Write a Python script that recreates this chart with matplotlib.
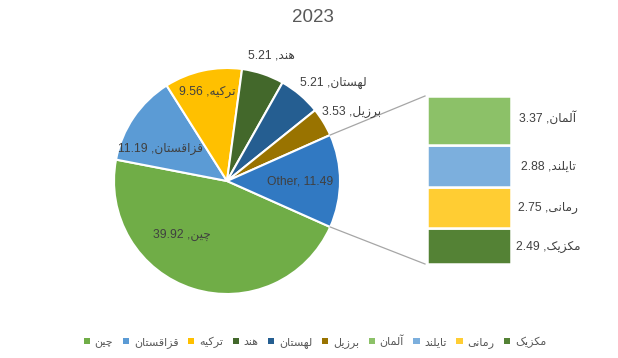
import numpy as np
import matplotlib
matplotlib.use('Agg')
import matplotlib.pyplot as plt
from matplotlib.patches import Patch
from matplotlib.lines import Line2D

plt.rcParams['font.family'] = ['Liberation Sans', 'DejaVu Sans']

### data ######################################################################

pie_names = ['چین', 'قزاقستان', 'ترکیه', 'هند', 'لهستان', 'برزیل']
pie_values = [39.92, 11.19, 9.56, 5.21, 5.21, 3.53]
pie_colors = ['#70AD47', '#5B9BD5', '#FFC000', '#43682B', '#255E91', '#997300']

bar_names = ['آلمان', 'تایلند', 'رمانی', 'مکزیک']
bar_values = [3.37, 2.88, 2.75, 2.49]
bar_colors = ['#8CC168', '#7CAFDD', '#FFCD33', '#548235']

other_label = 'Other'
other_color = '#3179C2'
title = '2023'

### persian shaping (matplotlib has no bidi / joining) ########################

FORMS = {
    'ا': ('\uFE8D', '\uFE8E', None, None),
    'آ': ('\uFE81', '\uFE82', None, None),
    'ب': ('\uFE8F', '\uFE90', '\uFE91', '\uFE92'),
    'ت': ('\uFE95', '\uFE96', '\uFE97', '\uFE98'),
    'چ': ('\uFB7A', '\uFB7B', '\uFB7C', '\uFB7D'),
    'د': ('\uFEA9', '\uFEAA', None, None),
    'ر': ('\uFEAD', '\uFEAE', None, None),
    'ز': ('\uFEAF', '\uFEB0', None, None),
    'س': ('\uFEB1', '\uFEB2', '\uFEB3', '\uFEB4'),
    'ق': ('\uFED5', '\uFED6', '\uFED7', '\uFED8'),
    'ک': ('\uFB8E', '\uFB8F', '\uFB90', '\uFB91'),
    'ل': ('\uFEDD', '\uFEDE', '\uFEDF', '\uFEE0'),
    'م': ('\uFEE1', '\uFEE2', '\uFEE3', '\uFEE4'),
    'ن': ('\uFEE5', '\uFEE6', '\uFEE7', '\uFEE8'),
    'ه': ('\uFEE9', '\uFEEA', '\uFEEB', '\uFEEC'),
    'ی': ('\uFBFC', '\uFBFD', '\uFBFE', '\uFBFF'),
}


def fa(word):
    out = []
    for i, ch in enumerate(word):
        f = FORMS.get(ch)
        if f is None:
            out.append(ch)
            continue
        prev = FORMS.get(word[i - 1]) if i > 0 else None
        nxt = FORMS.get(word[i + 1]) if i + 1 < len(word) else None
        jp = prev is not None and prev[2] is not None
        jn = nxt is not None and f[2] is not None
        if jp and jn:
            out.append(f[3])
        elif jp:
            out.append(f[1])
        elif jn:
            out.append(f[2])
        else:
            out.append(f[0])
    return ''.join(out)[::-1]


def lab(name, v):
    return f'{v:.2f} ,{fa(name)}'


### layout ####################################################################

W, H = 618, 358
fig = plt.figure(figsize=(W / 100, H / 100), dpi=100)

cx, cy, r = 227, 181, 113
bx0, bx1, by0, by1 = 427, 511, 96, 264   # bar box in pixels (top-left origin)


def fx(x):
    return x / W


def fy(y):
    return 1 - y / H


other_value = sum(bar_values)
vals = pie_values + [other_value]
cols = pie_colors + [other_color]
half = other_value / sum(vals) * 360 / 2

ax_pie = fig.add_axes([fx(cx - r), fy(cy + r), 2 * r / W, 2 * r / H])
wedges, _ = ax_pie.pie(vals, colors=cols, startangle=-half, counterclock=False,
                       wedgeprops=dict(edgecolor='white', linewidth=1.5, clip_on=False))
ax_pie.set_xlim(-1, 1)
ax_pie.set_ylim(-1, 1)
ax_pie.axis('off')

ax_bar = fig.add_axes([fx(bx0), fy(by1), (bx1 - bx0) / W, (by1 - by0) / H])
bottom = 0
for v, c in zip(bar_values[::-1], bar_colors[::-1]):
    ax_bar.bar(0, v, bottom=bottom, width=1, color=c, edgecolor='white', linewidth=1.8, clip_on=False)
    bottom += v
ax_bar.set_xlim(-0.5, 0.5)
ax_bar.set_ylim(0, other_value)
ax_bar.axis('off')

# connector lines
a = np.radians(half)
for sgn, yb in [(1, by0), (-1, by1)]:
    px = cx + r * np.cos(a)
    py = cy - sgn * r * np.sin(a)
    fig.add_artist(Line2D([fx(px), fx(bx0 - 2)], [fy(py), fy(yb)], transform=fig.transFigure,
                          color='#A6A6A6', lw=0.9))

# data labels
tc = '#404040'
pie_pos = [(182, 235), (161, 149), (207, 92), (271, 55), (333, 83), (352, 112)]
for name, v, (x, y) in zip(pie_names, pie_values, pie_pos):
    fig.text(fx(x), fy(y), lab(name, v), ha='center', va='center', fontsize=8.7, color=tc)
fig.text(fx(300), fy(182), f'{other_label}, {other_value:.2f}', ha='center', va='center',
         fontsize=8.7, color=tc)

bar_pos = [(548, 118), (548, 167), (548, 208), (548, 247)]
for name, v, (x, y) in zip(bar_names, bar_values, bar_pos):
    fig.text(fx(x), fy(y), lab(name, v), ha='center', va='center', fontsize=8.7, color=tc)

fig.text(fx(313), fy(17), title, ha='center', va='center', fontsize=13.5, color='#595959')

# legend
handles = [Patch(facecolor=c) for c in pie_colors + bar_colors]
names = [fa(n) for n in pie_names + bar_names]
fig.legend(handles, names, loc='center', bbox_to_anchor=(fx(315), fy(341)), ncol=10,
           frameon=False, fontsize=8, labelcolor='#595959', handlelength=0.55, handleheight=0.55,
           handletextpad=0.45, columnspacing=0.85, borderpad=0)

fig.savefig('out.png', dpi=100)
